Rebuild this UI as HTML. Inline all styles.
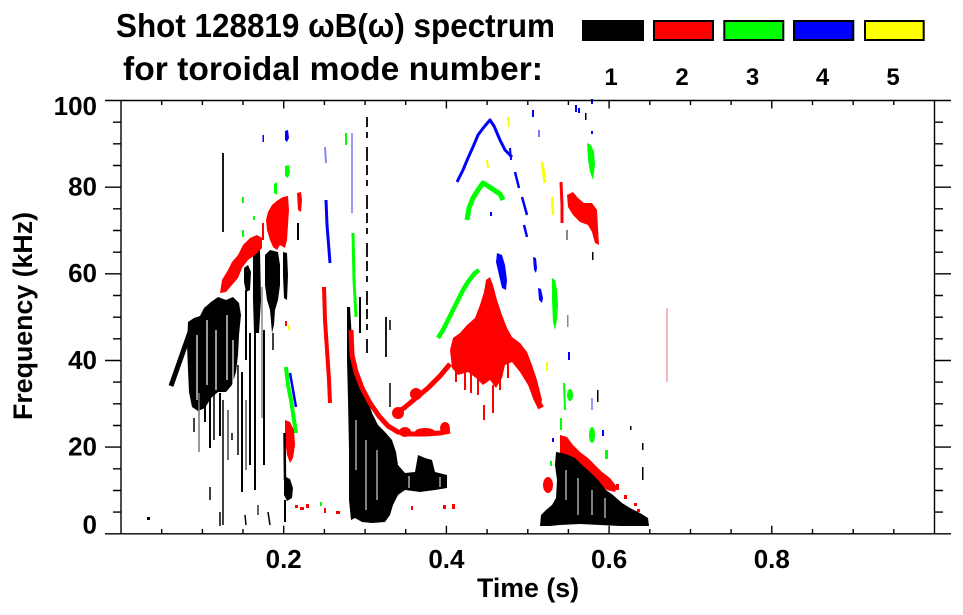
<!DOCTYPE html>
<html><head><meta charset="utf-8"><style>
html,body{margin:0;padding:0;background:#fff;}
svg{display:block;}
text{font-family:"Liberation Sans",Arial,sans-serif;font-weight:bold;fill:#000;}
</style></head><body>
<svg width="963" height="615" viewBox="0 0 963 615" xmlns="http://www.w3.org/2000/svg">
<rect width="963" height="615" fill="#fff"/>

<!-- Title -->
<text x="116" y="37" font-size="33" textLength="439" lengthAdjust="spacingAndGlyphs">Shot 128819 ωB(ω) spectrum</text>
<text x="123" y="80" font-size="33" textLength="420" lengthAdjust="spacingAndGlyphs">for toroidal mode number:</text>

<!-- Legend -->
<rect x="582" y="20" width="62" height="21" fill="#000"/>
<rect x="654" y="21" width="59" height="19" fill="#ff0000" stroke="#000" stroke-width="2"/>
<rect x="724.3" y="21" width="59" height="19" fill="#00ff00" stroke="#000" stroke-width="2"/>
<rect x="794" y="21" width="59.3" height="19" fill="#0000ff" stroke="#000" stroke-width="2"/>
<rect x="865" y="21" width="58.7" height="19" fill="#ffff00" stroke="#000" stroke-width="2"/>
<g font-size="24" text-anchor="middle">
<text x="611" y="85">1</text>
<text x="682" y="85">2</text>
<text x="752.5" y="85">3</text>
<text x="822.5" y="85">4</text>
<text x="893" y="85">5</text>
</g>

<!-- Data -->
<g>
<rect x="147" y="517" width="3" height="3" fill="#000"/>

<!-- Black mass 1 -->
<path d="M171,386 L190,332" stroke="#000" stroke-width="5" fill="none"/>
<polygon fill="#000" points="188,322 194,318 200,316 204,308 211,302 218,297 226,300 233,297 239,303 241,315 239,335 238,355 236,372 232,385 226,392 218,392 211,398 205,408 198,411 192,407 189,392 188,370 187,345"/>
<g stroke="#fff" stroke-width="1.2">
<line x1="197" y1="335" x2="197" y2="400"/>
<line x1="207" y1="320" x2="207" y2="385"/>
<line x1="216" y1="330" x2="216" y2="390"/>
<line x1="227" y1="315" x2="227" y2="380"/>
<line x1="233" y1="340" x2="233" y2="385"/>
</g>
<g stroke-linecap="butt" fill="none">
<line x1="199" y1="393" x2="199" y2="452" stroke="#777" stroke-width="1.5"/>
<line x1="205" y1="400" x2="205" y2="422" stroke="#000" stroke-width="2"/>
<line x1="210" y1="365" x2="210" y2="448" stroke="#000" stroke-width="2"/>
<line x1="210" y1="487" x2="210" y2="500" stroke="#000" stroke-width="1.5"/>
<line x1="214" y1="380" x2="214" y2="440" stroke="#000" stroke-width="1.5"/>
<line x1="220" y1="393" x2="220" y2="436" stroke="#000" stroke-width="2"/>
<line x1="220" y1="512" x2="220" y2="526" stroke="#000" stroke-width="1.5"/>
<line x1="223" y1="153" x2="223" y2="232" stroke="#000" stroke-width="1.8"/>
<line x1="223" y1="400" x2="223" y2="525" stroke="#000" stroke-width="1.5"/>
<line x1="228" y1="410" x2="228" y2="460" stroke="#444" stroke-width="1.5"/>
<line x1="238" y1="365" x2="238" y2="455" stroke="#000" stroke-width="1.5"/>
<line x1="242" y1="372" x2="242" y2="492" stroke="#000" stroke-width="2"/>
<line x1="246" y1="290" x2="246" y2="360" stroke="#000" stroke-width="2"/>
<line x1="246" y1="400" x2="246" y2="470" stroke="#555" stroke-width="1.5"/>
<line x1="250" y1="333" x2="250" y2="465" stroke="#000" stroke-width="2"/>
<line x1="255" y1="300" x2="255" y2="490" stroke="#000" stroke-width="2"/>
<line x1="262" y1="287" x2="262" y2="418" stroke="#888" stroke-width="1.5"/>
<line x1="264" y1="330" x2="264" y2="465" stroke="#000" stroke-width="2"/>
<line x1="245" y1="515" x2="246" y2="525" stroke="#000" stroke-width="1.5"/>
<line x1="268" y1="512" x2="270" y2="525" stroke="#000" stroke-width="1.5"/>
<line x1="194" y1="418" x2="194" y2="432" stroke="#000" stroke-width="1.5"/>
<line x1="232" y1="433" x2="232" y2="440" stroke="#000" stroke-width="1.5"/>
<line x1="258" y1="505" x2="258" y2="515" stroke="#000" stroke-width="1.2"/>
<line x1="273" y1="333" x2="273" y2="350" stroke="#000" stroke-width="1.5"/>
</g>
<!-- Upper black columns -->
<polygon fill="#000" points="253,250 256,246 260,250 261,300 259,333 254,333 253,300"/>
<polygon fill="#000" points="244,268 248,265 251,272 250,290 246,292 244,282"/>
<polygon fill="#000" points="265,255 270,250 278,252 280,265 280,285 278,300 275,310 274,325 272,333 270,310 267,300 265,285"/>
<polygon fill="#000" points="283,252 287,253 288,275 287,300 284,298 283,275"/>
<rect x="297" y="223" width="2" height="17" fill="#000"/>

<!-- Red near mass 1 -->
<polygon fill="#ff0000" points="220,293 222,280 228,270 232,262 238,255 243,245 250,238 257,235 262,238 262,248 255,255 248,260 242,268 238,278 232,285 226,292"/>
<polygon fill="#ff0000" points="268,212 272,205 278,200 283,197 288,196 289,210 288,225 287,240 285,248 280,245 277,250 273,247 270,240 267,230 266,220"/>
<polygon fill="#ff0000" points="297,193 301,192 302,200 301,212 298,210"/>
<line x1="263" y1="223" x2="263" y2="240" stroke="#ff0000" stroke-width="2"/>
<polygon fill="#00ff00" points="285,166 289,165 290,172 288,178 285,176"/>
<polygon fill="#00ff00" points="274,184 277,182 277,195 274,193"/>
<rect x="242" y="197" width="2" height="6" fill="#00ff00"/>
<rect x="253" y="216" width="2" height="4" fill="#00ff00"/>
<rect x="242" y="230" width="2" height="7" fill="#00ff00"/>
<polygon fill="#0000ff" points="285,131 288,130 289,138 287,142 285,140"/>
<rect x="262.5" y="135" width="1.5" height="7" fill="#0000ff"/>

<!-- near 285-296 lower -->
<path d="M286,367 L288,385 L291,400 L294,420 L296,433" stroke="#00ff00" stroke-width="4" fill="none"/>
<path d="M290,373 L293,390 L296,407" stroke="#0000ff" stroke-width="2.5" fill="none"/>
<polygon fill="#ff0000" points="285,420 290,422 294,430 295,445 293,458 290,463 287,455 285,440"/>
<line x1="284.5" y1="433" x2="285" y2="480" stroke="#000" stroke-width="2.5"/>
<polygon fill="#000" points="284,476 290,479 293,488 292,498 287,501 284,495"/>
<line x1="285" y1="500" x2="285" y2="522" stroke="#000" stroke-width="2"/>
<rect x="288" y="325" width="2" height="5" fill="#ffff00"/>
<rect x="285" y="321" width="2" height="5" fill="#ff0000"/>

<!-- Verticals at ~325 -->
<path d="M324,287 L325,320 L327,350 L329,380 L330,403" stroke="#ff0000" stroke-width="4" fill="none"/>
<path d="M326,200 L327,225 L329,250 L330,263" stroke="#0000ff" stroke-width="3" fill="none"/>
<path d="M325,147 L326,163" stroke="#8888ff" stroke-width="2" fill="none"/>
<g fill="#ff0000">
<rect x="295" y="505" width="3" height="3"/><rect x="300" y="507" width="4" height="3"/><rect x="306" y="504" width="3" height="4"/>
<rect x="324" y="508" width="2" height="5"/><rect x="336" y="511" width="4" height="3"/>
<rect x="443" y="505" width="3" height="4"/><rect x="452" y="504" width="3" height="5"/>
<rect x="411" y="506" width="2" height="4"/>
</g>
<rect x="320" y="502" width="2" height="4" fill="#00ff00"/>

<!-- thin verticals near 347-367 -->
<path d="M346,133 L346,145" stroke="#00ff00" stroke-width="2" fill="none"/>
<path d="M352,133 L352,213" stroke="#7777ff" stroke-width="1.5" fill="none"/>
<path d="M353,233 L354,280 L356,317" stroke="#00ff00" stroke-width="3" fill="none"/>
<path d="M367,117 L367,357" stroke="#000" stroke-width="1.8" stroke-dasharray="10 5 6 9 14 4" fill="none"/>
<line x1="360" y1="297" x2="360" y2="333" stroke="#000" stroke-width="2"/>
<line x1="386" y1="317" x2="386" y2="357" stroke="#000" stroke-width="1.8"/>
<line x1="390" y1="383" x2="390" y2="407" stroke="#000" stroke-width="1.5"/>
<line x1="390" y1="320" x2="390" y2="330" stroke="#000" stroke-width="1.5"/>

<!-- Black mass 2 -->
<polygon fill="#000" points="347,307 350,307 352,340 353,365 360,385 367,398 372,413 378,425 385,432 392,440 396,452 398,465 405,473 415,472 418,455 425,458 432,460 435,472 447,475 447,488 435,490 420,492 405,490 398,495 393,505 390,515 385,522 372,523 362,522 355,518 351,520 349,500 349,450 348,400 347,360"/>
<g stroke="#fff" stroke-width="1">
<line x1="356" y1="420" x2="356" y2="470"/>
<line x1="366" y1="440" x2="366" y2="510"/>
<line x1="377" y1="450" x2="377" y2="500"/>
<line x1="409" y1="476" x2="409" y2="488"/>
<line x1="440" y1="477" x2="440" y2="487"/>
</g>

<!-- Red arch -->
<path d="M351,330 L352,355 L356,372 L362,388 L370,403 L379,416 L388,426 L398,432 L410,434 L425,434 L440,433 L450,431" stroke="#ff0000" stroke-width="5" fill="none" stroke-linejoin="round"/>
<ellipse cx="405" cy="432" rx="6" ry="5" fill="#ff0000"/>
<ellipse cx="425" cy="432" rx="10" ry="4" fill="#ff0000"/>
<ellipse cx="445" cy="428" rx="5" ry="6" fill="#ff0000"/>
<path d="M394,414 L404,408 L416,398 L428,388 L440,376 L450,364" stroke="#ff0000" stroke-width="5" fill="none" stroke-linejoin="round"/>
<ellipse cx="398" cy="413" rx="6" ry="6" fill="#ff0000"/>
<ellipse cx="416" cy="394" rx="6" ry="6" fill="#ff0000"/>
<polygon fill="#ff0000" points="450,350 453,338 460,333 467,325 475,318 480,305 484,292 486,280 490,277 493,285 497,300 502,315 507,328 512,337 520,343 527,352 532,365 537,380 542,400 540,408 534,400 528,385 520,372 512,362 505,365 502,378 496,388 490,380 483,385 476,378 468,372 458,375 452,368"/>
<path d="M505,335 L515,348 L524,365 L531,383 L536,398 L541,408" stroke="#ff0000" stroke-width="6" fill="none"/>
<g stroke="#ff0000" stroke-width="2">
<line x1="471" y1="365" x2="471" y2="393"/>
<line x1="493" y1="385" x2="493" y2="413"/>
<line x1="484" y1="405" x2="484" y2="420"/>
<line x1="465" y1="372" x2="465" y2="390"/>
<line x1="456" y1="368" x2="456" y2="382"/>
<line x1="478" y1="378" x2="478" y2="395"/>
<line x1="500" y1="375" x2="500" y2="390"/>
<line x1="508" y1="360" x2="508" y2="378"/>
</g>

<!-- Green arches -->
<path d="M438,338 L443,330 L448,320 L453,310 L458,300 L463,290 L468,282 L474,274 L479,270" stroke="#00ff00" stroke-width="4.5" fill="none" stroke-linejoin="round"/>
<path d="M467,220 L469,208 L473,198 L478,190 L483,183 L488,186 L494,190 L500,194 L503,200" stroke="#00ff00" stroke-width="5" fill="none" stroke-linejoin="round"/>
<!-- Blue arch -->
<path d="M457,182 L463,170 L468,158 L473,147 L478,135 L484,127 L490,120 L494,126 L500,140 L505,150 L512,157" stroke="#0000ff" stroke-width="3" fill="none" stroke-linejoin="round"/>
<path d="M515,172 L519,188" stroke="#0000ff" stroke-width="2.5" fill="none"/>
<path d="M522,197 L527,215" stroke="#0000ff" stroke-width="2.5" fill="none"/>
<path d="M524,225 L527,237" stroke="#0000ff" stroke-width="2.5" fill="none"/>
<path d="M510,148 L511,160" stroke="#0000ff" stroke-width="2" fill="none"/>
<polygon fill="#0000ff" points="497,253 502,255 505,265 507,280 506,290 502,288 499,275 496,262"/>
<polygon fill="#0000ff" points="533,257 536,258 537,268 536,273 534,270"/>
<polygon fill="#0000ff" points="538,288 541,289 543,298 542,303 539,300"/>
<rect x="532" y="110" width="2" height="7" fill="#0000ff"/>
<rect x="538" y="130" width="2" height="7" fill="#7777ff"/>
<rect x="575" y="105" width="2" height="7" fill="#0000ff"/>
<rect x="578" y="108" width="2" height="5" fill="#0000ff"/>
<rect x="591" y="99" width="2" height="5" fill="#0000ff"/>
<rect x="591" y="131" width="2" height="3" fill="#0000ff"/>
<rect x="490" y="212" width="2" height="4" fill="#0000ff"/>
<path d="M487,160 L488,168" stroke="#ffff00" stroke-width="2"/>
<path d="M508,117 L509,127" stroke="#ffff00" stroke-width="2"/>
<path d="M542,162 L545,183" stroke="#ffff00" stroke-width="3"/>
<path d="M552,197 L553,215" stroke="#ffff00" stroke-width="2.5"/>
<path d="M547,362 L547,371" stroke="#ffff00" stroke-width="2"/>
<!-- Right side colored -->
<polygon fill="#00ff00" points="552,278 555,280 557,290 558,305 557,320 555,330 553,322 552,300"/>
<path d="M561,182 L562,205 L562,223" stroke="#ff0000" stroke-width="3" fill="none"/>
<polygon fill="#ff0000" points="567,195 573,192 578,198 584,203 592,203 597,210 598,228 599,245 595,243 592,232 588,225 580,222 573,215 568,207"/>
<polygon fill="#00ff00" points="587,143 591,145 594,152 595,165 593,180 590,172 588,160"/>
<rect x="585" y="113" width="1.5" height="7" fill="#000"/>
<rect x="566" y="230" width="2" height="10" fill="#888"/>
<rect x="592" y="252" width="1.5" height="8" fill="#000"/>
<rect x="568" y="352" width="2" height="8" fill="#0000ff"/>
<rect x="591" y="398" width="2" height="12" fill="#9999ff"/>
<rect x="567" y="315" width="1.5" height="12" fill="#888"/>

<path d="M564,383 L565,410" stroke="#00ff00" stroke-width="2" fill="none"/>
<ellipse cx="570" cy="395" rx="3" ry="6" fill="#00ff00"/>
<path d="M561,418 L561,430" stroke="#00ff00" stroke-width="2" fill="none"/>
<ellipse cx="592" cy="435" rx="3" ry="8" fill="#00ff00"/>
<rect x="605" y="450" width="3" height="9" fill="#00ff00"/>
<rect x="550" y="461" width="2" height="5" fill="#00ff00"/>
<rect x="602" y="430" width="2" height="6" fill="#0000ff"/>
<rect x="552" y="438" width="2" height="4" fill="#0000ff"/>
<polygon fill="#ff0000" points="560,435 567,437 573,445 580,452 588,458 595,465 602,472 610,478 617,487 615,492 607,490 598,484 590,477 580,470 572,465 565,460 560,455"/>
<g fill="#ff0000">
<rect x="616" y="484" width="3" height="6"/>
<rect x="624" y="495" width="3" height="4"/>
<rect x="634" y="503" width="3" height="3"/>
<rect x="637" y="509" width="3" height="3"/>
</g>
<ellipse cx="548" cy="485" rx="5" ry="8" fill="#ff0000"/>
<!-- Black triangle -->
<polygon fill="#000" points="556,452 562,453 568,455 575,458 582,465 590,472 598,480 606,490 613,495 622,503 630,508 640,513 648,518 649,526 620,526 600,525 580,524 560,525 550,526 540,526 541,515 546,510 552,505 556,498 557,480 555,465"/>
<g stroke="#fff" stroke-width="1">
<line x1="566" y1="470" x2="566" y2="500"/>
<line x1="578" y1="478" x2="578" y2="515"/>
<line x1="592" y1="490" x2="592" y2="515"/>
<line x1="605" y1="498" x2="605" y2="518"/>
</g>
<rect x="642" y="443" width="1.5" height="7" fill="#000"/>
<rect x="642" y="467" width="1.5" height="13" fill="#000"/>
<rect x="630" y="426" width="1.5" height="4" fill="#000"/>
<rect x="597" y="390" width="1.5" height="12" fill="#000"/>
<line x1="667" y1="308" x2="667" y2="382" stroke="#f4a0a0" stroke-width="1.5"/>
</g>

<!-- Axes -->
<g stroke="#000" stroke-width="1.4" fill="none">
<line x1="105" y1="100.5" x2="951" y2="100.5"/>
<line x1="105" y1="533.8" x2="951" y2="533.8"/>
<line x1="121" y1="100.5" x2="121" y2="533.8"/>
<line x1="934.5" y1="100.5" x2="934.5" y2="533.8"/>
<path d="M105,187.2H121M105,273.8H121M105,360.5H121M105,447.1H121"/>
<path d="M113,512.1H121M113,490.5H121M113,468.8H121M113,425.5H121M113,403.8H121M113,382.1H121M113,338.8H121M113,317.2H121M113,295.5H121M113,252.2H121M113,230.5H121M113,208.8H121M113,165.5H121M113,143.8H121M113,122.2H121"/>
<path d="M934.5,187.2H951M934.5,273.8H951M934.5,360.5H951M934.5,447.1H951"/>
<path d="M934.5,512.1H943M934.5,490.5H943M934.5,468.8H943M934.5,425.5H943M934.5,403.8H943M934.5,382.1H943M934.5,338.8H943M934.5,317.2H943M934.5,295.5H943M934.5,252.2H943M934.5,230.5H943M934.5,208.8H943M934.5,165.5H943M934.5,143.8H943M934.5,122.2H943"/>
<path d="M283.7,533.8V525.8M446.4,533.8V525.8M609.1,533.8V525.8M771.8,533.8V525.8"/>
<path d="M161.7,533.8V529M202.4,533.8V529M243,533.8V529M324.4,533.8V529M365.1,533.8V529M405.7,533.8V529M487.1,533.8V529M527.8,533.8V529M568.4,533.8V529M649.8,533.8V529M690.5,533.8V529M731.1,533.8V529M812.5,533.8V529M853.2,533.8V529M893.8,533.8V529"/>
<path d="M283.7,100.5V108.5M446.4,100.5V108.5M609.1,100.5V108.5M771.8,100.5V108.5"/>
<path d="M161.7,100.5V105M202.4,100.5V105M243,100.5V105M324.4,100.5V105M365.1,100.5V105M405.7,100.5V105M487.1,100.5V105M527.8,100.5V105M568.4,100.5V105M649.8,100.5V105M690.5,100.5V105M731.1,100.5V105M812.5,100.5V105M853.2,100.5V105M893.8,100.5V105"/>
</g>

<!-- Tick labels -->
<g font-size="26" text-anchor="end">
<text x="97" y="115">100</text>
<text x="97" y="195.5">80</text>
<text x="97" y="282">60</text>
<text x="97" y="369">40</text>
<text x="97" y="455.5">20</text>
<text x="97" y="533.5">0</text>
</g>
<g font-size="26" text-anchor="middle">
<text x="283.7" y="568">0.2</text>
<text x="446.4" y="568">0.4</text>
<text x="609.1" y="568">0.6</text>
<text x="771.8" y="568">0.8</text>
</g>

<text x="528" y="597" font-size="27" text-anchor="middle" textLength="102" lengthAdjust="spacingAndGlyphs">Time (s)</text>
<text transform="translate(32,316) rotate(-90)" font-size="27" text-anchor="middle" textLength="208" lengthAdjust="spacingAndGlyphs">Frequency (kHz)</text>
</svg>
</body></html>
